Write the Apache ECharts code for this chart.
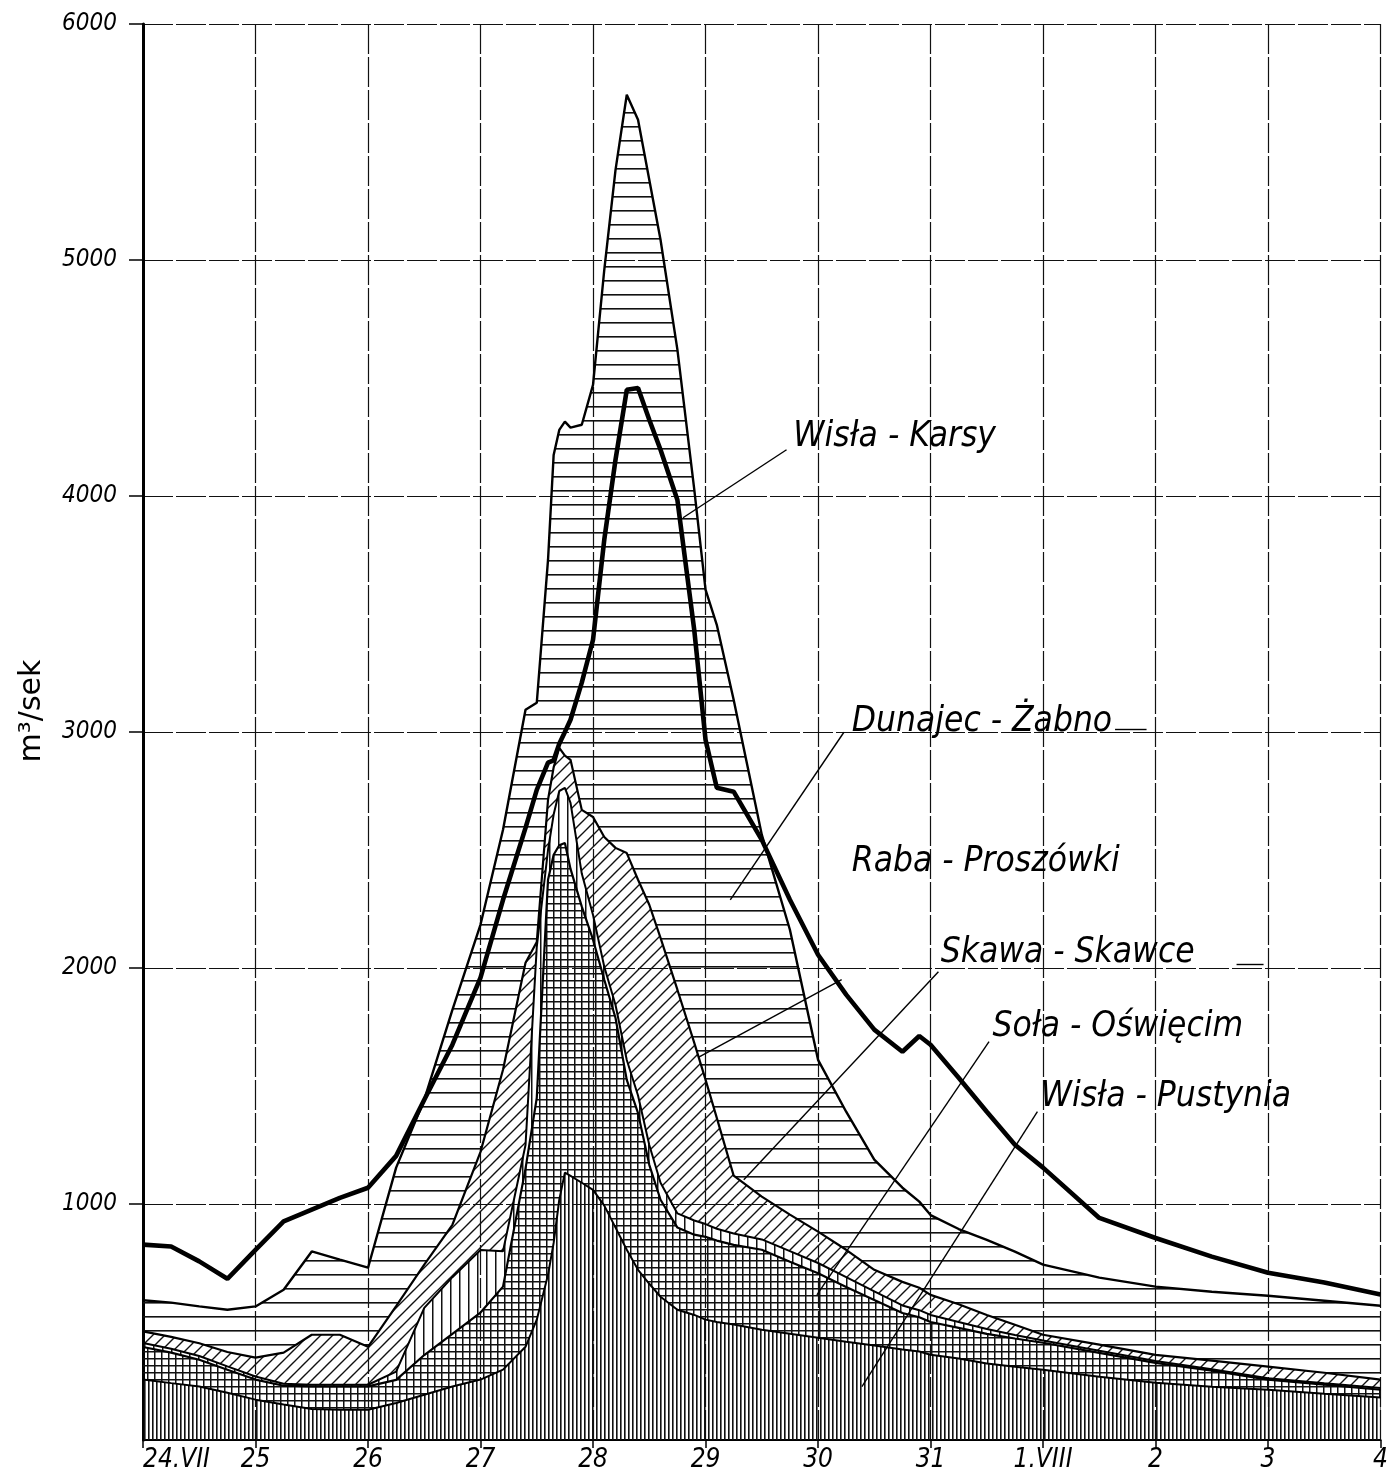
<!DOCTYPE html>
<html><head><meta charset="utf-8">
<script src="https://cdn.jsdelivr.net/npm/echarts@6/dist/echarts.min.js"></script>
<style>html,body{margin:0;padding:0;background:#fff}#c{width:1391px;height:1475px}</style>
</head><body><div id="c"></div>
<script>
// days after 24.VII 00:00
const days=[0,0.25,0.5,0.75,1,1.25,1.5,1.75,2,2.25,2.5,2.75,3,3.2,3.4,3.5,3.6,3.65,3.7,3.75,3.8,3.9,4,4.1,4.2,4.3,4.4,4.5,4.6,4.75,4.9,5,5.1,5.25,5.5,5.75,6,6.25,6.5,6.75,6.9,7,7.25,7.5,7.75,8,8.5,9,9.5,10,10.5,11];
const xTickLabels=['24.VII','25','26','27','28','29','30','31','1.VIII','2','3','4'];
const yTicks=[0,1000,2000,3000,4000,5000,6000];
// discharge of each river, m3/s (stacked bottom to top)
const pustynia=[256,241,227,200,171,150,131,128,128,157,192,227,256,298,395,510,700,835,1018,1133,1119,1090,1060,993,900,806,721,662,607,552,530,510,500,489,467,450,433,416,400,383,375,361,345,324,310,298,268,243,226,213,196,180];
const sola=[138,129,113,98,85,80,96,99,99,98,168,223,284,352,755,940,1674,1645,1502,1397,1301,1170,1060,957,888,720,664,504,411,348,340,351,345,338,339,305,274,232,193,155,145,139,130,126,120,114,101,84,68,43,39,33];
const skawa=[17,17,16,14,13,8,7,7,7,35,200,240,265,150,100,640,126,170,230,233,280,140,105,55,55,84,75,84,72,60,60,54,50,48,44,45,43,42,37,32,30,30,25,20,15,10,9,8,6,6,5,7];
const raba=[49,50,54,61,80,132,212,212,161,277,183,222,416,769,772,20,213,200,183,137,182,270,415,550,666,877,914,1018,1038,948,753,612,470,245,181,155,133,116,91,100,95,85,75,60,43,24,26,26,36,49,45,36];
const dunajec=[132,145,156,179,217,267,353,318,335,587,699,911,963,1017,1072,1014,1016,1324,1347,1415,1408,1632,1831,2403,2873,3213,3220,3072,2958,2712,2344,2076,2089,2017,1534,1207,728,585,467,399,365,338,319,318,310,297,284,289,292,300,305,313];
const karsy=[828,820,757,683,806,926,976,1026,1069,1204,1442,1675,1959,2289,2594,2755,2870,2880,2950,3000,3052,3209,3391,3815,4154,4450,4458,4323,4196,3983,3431,2967,2764,2747,2543,2289,2056,1887,1739,1645,1712,1675,1535,1391,1251,1154,941,856,777,709,667,616];
// annotations (data coordinates: [day, m3/s])
const labelTexts=['Wisła - Karsy','Dunajec - Żabno','Raba - Proszówki','Skawa - Skawce','Soła - Oświęcim','Wisła - Pustynia'];
const labelAnchors=[[5.78,4249],[6.30,3043],[6.30,2448],[7.09,2063],[7.55,1750],[7.98,1454]];
const leaderLines=[
  [[5.72,4196],[4.80,3908]],
  [[6.23,2999],[5.22,2289]],
  [[6.21,1951],[4.94,1622]],
  [[7.07,1984],[5.34,1103]],
  [[7.52,1688],[5.99,615]],
  [[7.95,1391],[6.39,226]],
  [[8.64,3010],[8.92,3010]],
  [[9.72,2014],[9.96,2014]]
];
const FONT="'DejaVu Sans Condensed','Liberation Sans Narrow','DejaVu Sans',sans-serif";

function pattern(kind){
  const c=document.createElement('canvas');
  const g=c.getContext('2d');
  if(kind==='vert'){c.width=4;c.height=4;g.fillStyle='#111';g.fillRect(0,0,1.6,4);}
  else if(kind==='sparse'){c.width=9;c.height=4;g.fillStyle='#111';g.fillRect(0,0,1.5,4);}
  else if(kind==='grid'){c.width=7;c.height=7;g.fillStyle='#111';g.fillRect(0,0,1.5,7);g.fillRect(0,0,7,1.5);}
  else if(kind==='diag'){c.width=12;c.height=12;g.strokeStyle='#111';g.lineWidth=1.4;g.beginPath();
    g.moveTo(-6,6);g.lineTo(6,-6);g.moveTo(0,12);g.lineTo(12,0);g.moveTo(6,18);g.lineTo(18,6);g.stroke();}
  else if(kind==='horiz'){c.width=8;c.height=14;g.fillStyle='#111';g.fillRect(0,0,8,1.6);}
  return {image:c,repeat:'repeat'};
}
// data rows are [value, day] so that the value column is the stacked one
function stacked(name,vals,fill,lw){
  return {name:name,type:'line',stack:'flow',symbol:'none',z:2,
    encode:{x:1,y:0},
    data:days.map((d,i)=>[vals[i],d]),
    lineStyle:{color:'#000',width:lw},
    areaStyle:{color:fill,opacity:1},
    emphasis:{disabled:true}};
}
const chart=echarts.init(document.getElementById('c'),null,{renderer:'canvas'});
chart.setOption({
  animation:false,
  backgroundColor:'#fff',
  grid:{left:143,right:4,top:24,bottom:35},
  xAxis:{type:'value',min:0,max:11,interval:1,
    axisLine:{lineStyle:{color:'#000',width:2}},
    axisTick:{length:8,lineStyle:{color:'#000',width:1.5}},
    axisLabel:{color:'#000',fontSize:26,fontStyle:'italic',fontFamily:FONT,margin:7,
      formatter:v=>xTickLabels[Math.round(v)],alignMinLabel:'left'},
    splitLine:{show:true,lineStyle:{color:'#111',width:1.2,type:[30,3]}}},
  yAxis:{type:'value',min:0,max:6000,interval:1000,
    name:'m³/sek',nameLocation:'middle',nameGap:96,nameRotate:90,
    nameTextStyle:{color:'#000',fontSize:30,fontFamily:"'DejaVu Sans',sans-serif",padding:[0,0,0,42]},
    axisLine:{show:true,lineStyle:{color:'#000',width:3}},
    axisTick:{show:true,length:14,lineStyle:{color:'#000',width:1.5}},
    axisLabel:{color:'#000',fontSize:24,fontStyle:'italic',fontFamily:FONT,margin:26,showMinLabel:false,
      formatter:v=>(yTicks.indexOf(v)>0?String(v):'')},
    splitLine:{show:true,lineStyle:{color:'#111',width:1.2,type:[30,3]}}},
  series:[
    stacked('Wisła - Pustynia',pustynia,pattern('vert'),2),
    stacked('Soła - Oświęcim',sola,pattern('grid'),2.2),
    stacked('Skawa - Skawce',skawa,pattern('sparse'),2),
    stacked('Raba - Proszówki',raba,pattern('diag'),2.2),
    stacked('Dunajec - Żabno',dunajec,pattern('horiz'),2.4),
    {name:'Wisła - Karsy',type:'line',symbol:'none',z:5,
      data:days.map((d,i)=>[d,karsy[i]]),
      lineStyle:{color:'#000',width:4.6},
      emphasis:{disabled:true},
      markLine:{silent:true,symbol:['none','none'],animation:false,
        lineStyle:{color:'#000',width:1.4,type:'solid'},label:{show:false},
        data:leaderLines.map(l=>[{coord:l[0]},{coord:l[1]}])},
      markPoint:{silent:true,animation:false,
        data:labelAnchors.map((p,i)=>({coord:p,symbol:'rect',symbolSize:0,
          label:{show:true,position:'right',distance:0,formatter:labelTexts[i],
            color:'#000',fontSize:35,fontStyle:'italic',fontFamily:FONT}}))}}
  ]
});
</script></body></html>
